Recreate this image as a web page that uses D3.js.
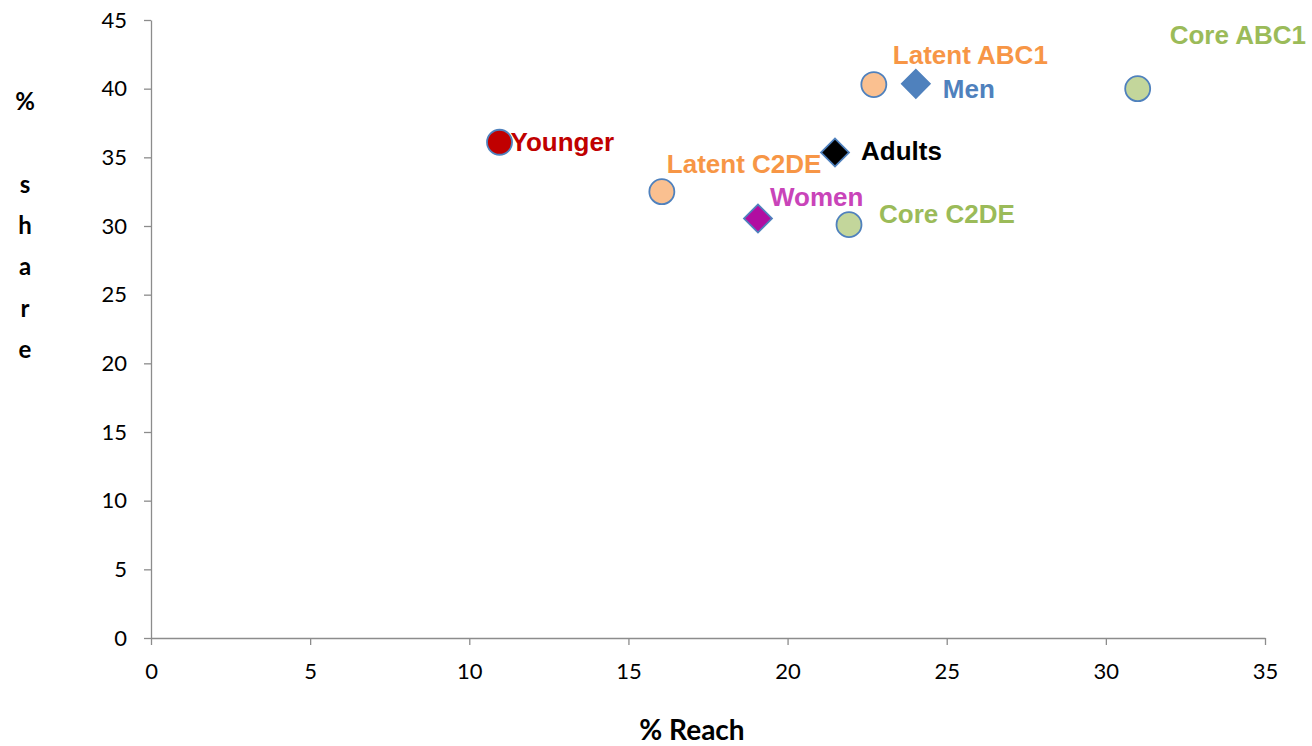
<!DOCTYPE html>
<html>
<head>
<meta charset="utf-8">
<script src="https://cdn.jsdelivr.net/npm/d3@7"></script>
<style>
  html, body { margin: 0; padding: 0; background: #ffffff; }
  svg { display: block; }
</style>
</head>
<body>
<svg id="chart" width="1312" height="746"></svg>
<script>
// Audience groups: reach (%) against share (%)
const groups = ["Younger", "Latent C2DE", "Women", "Core C2DE", "Adults", "Latent ABC1", "Men", "Core ABC1"];
const reach  = [10.95, 16.05, 19.07, 21.93, 21.49, 22.71, 24.03, 31.0];
const share  = [36.1, 32.5, 30.55, 30.1, 35.35, 40.3, 40.35, 40.0];
const shapes = ["circle", "circle", "diamond", "circle", "diamond", "circle", "diamond", "circle"];

const xTicks = [0, 5, 10, 15, 20, 25, 30, 35];
const yTicks = [0, 5, 10, 15, 20, 25, 30, 35, 40, 45];

// Marker fills and label colours per group
const fills = {
  "Younger": "#C00000", "Latent C2DE": "#FAC090", "Women": "#B10DA1", "Core C2DE": "#C3D69B",
  "Adults": "#000000", "Latent ABC1": "#FAC090", "Men": "#4F81BD", "Core ABC1": "#C3D69B"
};
const labelColors = {
  "Younger": "#C00000", "Latent C2DE": "#F79646", "Women": "#C944B9", "Core C2DE": "#9BBB59",
  "Adults": "#000000", "Latent ABC1": "#F79646", "Men": "#4F81BD", "Core ABC1": "#9BBB59"
};
// Label placement relative to each marker (pixels)
const labelOffsets = {
  "Younger": [11, 0], "Latent C2DE": [5, -28], "Women": [12, -21], "Core C2DE": [30, -11],
  "Adults": [26, -2], "Latent ABC1": [19, -30], "Men": [27, 5], "Core ABC1": [32, -54]
};

const svg = d3.select("#chart");
const margin = { left: 151, right: 47, top: 20, bottom: 108 };
const W = 1312, H = 746;

const x = d3.scaleLinear().domain([0, 35]).range([margin.left, W - margin.right]);
const y = d3.scaleLinear().domain([0, 45]).range([H - margin.bottom, margin.top]);

const axisColor = "#8c8c8c";
const tickFont = "Lato, 'Open Sans', sans-serif";

// X axis
const gx = svg.append("g")
  .attr("transform", `translate(0,${y(0)})`)
  .call(d3.axisBottom(x).tickValues(xTicks).tickSize(7).tickPadding(18).tickSizeOuter(0));
// Y axis
const gy = svg.append("g")
  .attr("transform", `translate(${x(0)},0)`)
  .call(d3.axisLeft(y).tickValues(yTicks).tickSize(7).tickPadding(17).tickSizeOuter(0));

[gx, gy].forEach(g => {
  g.select(".domain").attr("stroke", axisColor).attr("stroke-width", 1.3);
  g.selectAll(".tick line").attr("stroke", axisColor).attr("stroke-width", 1.3);
  g.selectAll(".tick text")
    .attr("fill", "#000")
    .style("font-family", tickFont)
    .style("font-size", "22px");
});

// Axis titles
svg.append("text")
  .attr("x", 692).attr("y", 740)
  .attr("text-anchor", "middle")
  .style("font-family", tickFont)
  .style("font-weight", "bold")
  .style("font-size", "28px")
  .text("% Reach");

const yTitle = ["%", "", "s", "h", "a", "r", "e"];
svg.append("g").selectAll("text")
  .data(yTitle)
  .join("text")
  .attr("x", 25)
  .attr("y", (d, i) => 110 + i * 41.3)
  .attr("text-anchor", "middle")
  .style("font-family", tickFont)
  .style("font-weight", "bold")
  .style("font-size", "24px")
  .text(d => d);

// Points
const points = groups.map((g, i) => ({ name: g, rx: reach[i], sy: share[i], shape: shapes[i] }));
const diamond = d3.symbol().type(d3.symbolSquare).size(392);

const marks = svg.append("g");
points.forEach(p => {
  const cx = x(p.rx), cy = y(p.sy);
  if (p.shape === "circle") {
    marks.append("circle")
      .attr("cx", cx).attr("cy", cy).attr("r", 12.5)
      .attr("fill", fills[p.name])
      .attr("stroke", "#4F81BD").attr("stroke-width", 1.8);
  } else {
    marks.append("path")
      .attr("d", diamond())
      .attr("transform", `translate(${cx},${cy}) rotate(45)`)
      .attr("fill", fills[p.name])
      .attr("stroke", "#4F81BD").attr("stroke-width", 1.8);
  }
});

// Data labels
svg.append("g").selectAll("text")
  .data(points)
  .join("text")
  .attr("x", d => x(d.rx) + labelOffsets[d.name][0])
  .attr("y", d => y(d.sy) + labelOffsets[d.name][1])
  .attr("dominant-baseline", "central")
  .attr("fill", d => labelColors[d.name])
  .style("font-family", "'Liberation Sans', Arial, sans-serif")
  .style("font-weight", "bold")
  .style("font-size", "26px")
  .text(d => d.name);
</script>
</body>
</html>
